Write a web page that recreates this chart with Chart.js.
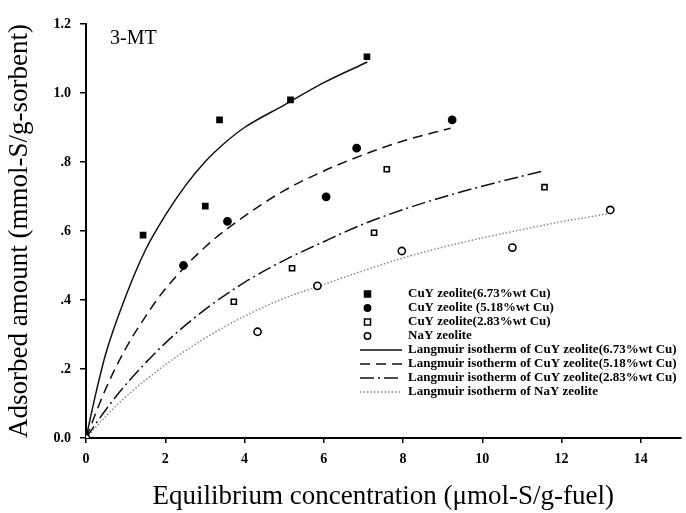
<!DOCTYPE html>
<html>
<head>
<meta charset="utf-8">
<script src="https://cdn.jsdelivr.net/npm/chart.js@4.4.0/dist/chart.umd.min.js"></script>
<style>
  body { margin: 0; background: #fff; }
  #wrap { width: 686px; height: 513px; }
</style>
</head>
<body>
<div id="wrap"><canvas id="myChart" width="686" height="513"></canvas></div>
<script>
// measured points
var cu673X = [1.44, 3.01, 3.37, 5.16, 7.09];
var cu673Y = [0.588, 0.672, 0.922, 0.98, 1.105];
var cu518X = [2.46, 3.57, 6.06, 6.83, 9.24];
var cu518Y = [0.50, 0.628, 0.699, 0.84, 0.922];
var cu283X = [3.73, 5.2, 7.27, 7.59, 11.57];
var cu283Y = [0.395, 0.492, 0.595, 0.779, 0.727];
var nayX = [0, 4.33, 5.84, 7.97, 10.76, 13.23];
var nayY = [0, 0.308, 0.441, 0.542, 0.552, 0.661];

// Langmuir curves
var fit673X = [0, 0.25, 0.5, 1, 1.5, 2, 2.5, 3, 3.5, 4, 5, 6, 7.1];
var fit673Y = [0, 0.13, 0.245, 0.41, 0.545, 0.645, 0.73, 0.80, 0.855, 0.90, 0.965, 1.03, 1.09];
var fit518X = [0, 0.5, 1, 1.5, 2, 3, 4, 5, 6, 7, 8, 9.2];
var fit518Y = [0, 0.143, 0.259, 0.352, 0.432, 0.553, 0.643, 0.717, 0.774, 0.821, 0.861, 0.898];
var fit283X = [0, 0.5, 1, 2, 3, 4, 5, 6, 7, 8, 9, 10, 11.57];
var fit283Y = [0, 0.082, 0.154, 0.275, 0.372, 0.451, 0.515, 0.569, 0.62, 0.662, 0.698, 0.73, 0.775];
var fitNayX = [0, 0.5, 1, 2, 3, 4, 5, 6, 7, 8, 9, 10, 11, 12, 13.23];
var fitNayY = [0, 0.063, 0.119, 0.212, 0.289, 0.353, 0.405, 0.445, 0.485, 0.522, 0.553, 0.58, 0.604, 0.627, 0.651];

var legendLabels = [
  'CuY zeolite(6.73%wt Cu)',
  'CuY zeolite (5.18%wt Cu)',
  'CuY zeolite(2.83%wt Cu)',
  'NaY zeolite',
  'Langmuir isotherm of CuY zeolite(6.73%wt Cu)',
  'Langmuir isotherm of CuY zeolite(5.18%wt Cu)',
  'Langmuir isotherm of CuY zeolite(2.83%wt Cu)',
  'Langmuir isotherm of NaY zeolite'
];

var serif = "'Liberation Serif', 'Times New Roman', serif";

function pts(xs, ys) {
  var out = [];
  for (var i = 0; i < xs.length; i++) out.push({ x: xs[i], y: ys[i] });
  return out;
}

function markerSet(label, xs, ys, style, filled) {
  return {
    type: 'scatter', label: label, data: pts(xs, ys),
    pointStyle: style, pointRadius: 3.6,
    backgroundColor: filled ? '#000' : '#fff',
    borderColor: '#000', pointBorderWidth: 1.6, order: 0
  };
}

function curveSet(label, xs, ys, dash, color) {
  return {
    type: 'line', label: label, data: pts(xs, ys),
    borderColor: color, borderWidth: 1.5, borderDash: dash,
    pointRadius: 0, fill: false, cubicInterpolationMode: 'monotone', order: 1
  };
}

var datasets = [
  markerSet(legendLabels[0], cu673X, cu673Y, 'rect', true),
  markerSet(legendLabels[1], cu518X, cu518Y, 'circle', true),
  markerSet(legendLabels[2], cu283X, cu283Y, 'rect', false),
  markerSet(legendLabels[3], nayX, nayY, 'circle', false),
  curveSet(legendLabels[4], fit673X, fit673Y, [], '#111'),
  curveSet(legendLabels[5], fit518X, fit518Y, [10, 6], '#111'),
  curveSet(legendLabels[6], fit283X, fit283Y, [14, 4, 2, 4], '#111'),
  curveSet(legendLabels[7], fitNayX, fitNayY, [1.5, 2], '#888')
];

// legend + panel label drawn inside the plot
var insideLegend = {
  id: 'insideLegend',
  afterDraw: function(chart) {
    var ctx = chart.ctx;
    ctx.save();
    ctx.fillStyle = '#000';
    ctx.font = "20px " + serif;
    ctx.textBaseline = 'middle';
    ctx.fillText('3-MT', 110, 39);

    var x0 = 360, y0 = 294, step = 14;
    ctx.font = "bold 13px " + serif;
    for (var i = 0; i < datasets.length; i++) {
      var ds = datasets[i];
      var y = y0 + i * step;
      if (ds.type === 'scatter') {
        ctx.fillStyle = ds.backgroundColor;
        ctx.strokeStyle = '#000';
        ctx.lineWidth = 1.5;
        ctx.beginPath();
        if (ds.pointStyle === 'rect') ctx.rect(364.5, y - 3, 6, 6);
        else ctx.arc(367.5, y, 3.2, 0, Math.PI * 2);
        ctx.fill();
        ctx.stroke();
      } else {
        ctx.strokeStyle = ds.borderColor;
        ctx.lineWidth = 1.5;
        ctx.setLineDash(ds.borderDash);
        ctx.beginPath();
        ctx.moveTo(x0, y);
        ctx.lineTo(x0 + 42, y);
        ctx.stroke();
        ctx.setLineDash([]);
      }
      ctx.fillStyle = '#000';
      ctx.fillText(ds.label, 408, y);
    }
    ctx.restore();
  }
};

new Chart(document.getElementById('myChart'), {
  type: 'scatter',
  data: { datasets: datasets },
  options: {
    responsive: false,
    animation: false,
    layout: { padding: { top: 24, right: 3, left: 0, bottom: 0 } },
    plugins: { legend: { display: false }, tooltip: { enabled: false } },
    scales: {
      x: {
        type: 'linear', min: 0, max: 15,
        afterFit: function(s) { s.height = 75; },
        afterBuildTicks: function(s) { s.ticks = s.ticks.filter(function(t) { return t.value % 2 === 0; }); },
        ticks: { stepSize: 2, color: '#000', font: { family: serif, size: 14, weight: 'bold' }, padding: 8, maxRotation: 0 },
        grid: { drawOnChartArea: false, drawTicks: true, tickLength: 5, color: '#000', lineWidth: 1.5 },
        border: { display: true, color: '#000', width: 2 },
        title: { display: true, text: 'Equilibrium concentration (\u03bcmol-S/g-fuel)', color: '#000',
                 font: { family: serif, size: 27 }, padding: { top: 0, bottom: 0 } }
      },
      y: {
        type: 'linear', min: 0, max: 1.2,
        afterFit: function(s) { s.width = 86; },
        ticks: {
          stepSize: 0.2, color: '#000', font: { family: serif, size: 14, weight: 'bold' }, padding: 9,
          callback: function(v) {
            var r = Math.round(v * 10) / 10;
            var s = r.toFixed(1);
            return (r > 0 && r < 1) ? s.slice(1) : s;
          }
        },
        grid: { drawOnChartArea: false, drawTicks: true, tickLength: 6, color: '#000', lineWidth: 1.5 },
        border: { display: true, color: '#000', width: 2 },
        title: { display: true, text: 'Adsorbed amount (mmol-S/g-sorbent)', color: '#000',
                 font: { family: serif, size: 27 }, padding: { top: 4, bottom: 2 } }
      }
    }
  },
  plugins: [insideLegend]
});
</script>
</body>
</html>
